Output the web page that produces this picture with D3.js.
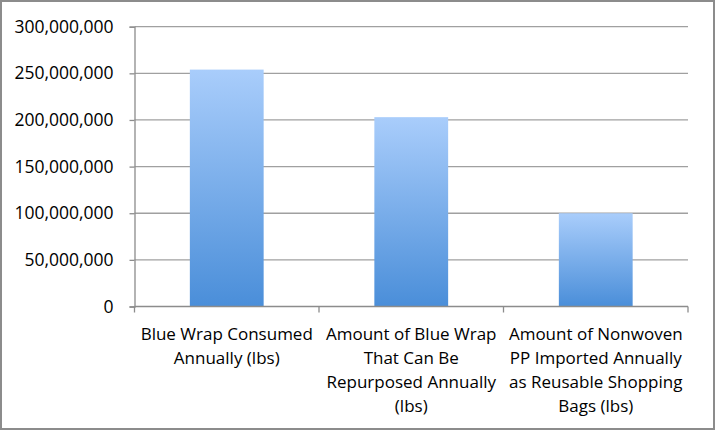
<!DOCTYPE html>
<html><head><meta charset="utf-8">
<script src="https://cdn.jsdelivr.net/npm/d3@7"></script>
<style>body{margin:0;background:#fff}svg{display:block}</style>
</head><body>
<script>
const categories = ["Blue Wrap Consumed Annually (lbs)", "Amount of Blue Wrap That Can Be Repurposed Annually (lbs)", "Amount of Nonwoven PP Imported Annually as Reusable Shopping Bags (lbs)"];
const categoryLines = [
  ["Blue Wrap Consumed", "Annually (lbs)"],
  ["Amount of Blue Wrap", "That Can Be", "Repurposed Annually", "(lbs)"],
  ["Amount of Nonwoven", "PP Imported Annually", "as Reusable Shopping", "Bags (lbs)"]
];
const values = [254000000, 203000000, 100000000];
const yTicks = [0, 50000000, 100000000, 150000000, 200000000, 250000000, 300000000];

const W = 715, H = 430;
const m = {left: 134.5, right: 27, top: 26.7, bottom: 123.5};
const svg = d3.select("body").append("svg").attr("width", W).attr("height", H);

const defs = svg.append("defs");
const g0 = defs.append("linearGradient").attr("id", "barGrad").attr("x1", 0).attr("y1", 0).attr("x2", 0).attr("y2", 1);
g0.append("stop").attr("offset", "0%").attr("stop-color", "#a9cdfb");
g0.append("stop").attr("offset", "100%").attr("stop-color", "#4a8ed9");

// outer border
svg.append("rect").attr("x", 1).attr("y", 1).attr("width", W - 2).attr("height", H - 2)
  .attr("fill", "none").attr("stroke", "#8c8c8c").attr("stroke-width", 2);

const x = d3.scaleBand().domain(categories).range([m.left, W - m.right]).paddingInner(0.6).paddingOuter(0.3);
const y = d3.scaleLinear().domain([0, 300000000]).range([H - m.bottom, m.top]);

const fmt = d3.format(",");
const font = "'Open Sans', sans-serif";

// gridlines
svg.append("g").selectAll("line").data(yTicks.filter(d => d > 0)).join("line")
  .attr("x1", m.left).attr("x2", W - m.right)
  .attr("y1", d => y(d)).attr("y2", d => y(d))
  .attr("stroke", "#a0a0a0").attr("stroke-width", 1.3);

// bars
svg.append("g").selectAll("rect").data(values).join("rect")
  .attr("x", (d, i) => x(categories[i]))
  .attr("width", x.bandwidth())
  .attr("y", d => y(d))
  .attr("height", d => y(0) - y(d))
  .attr("fill", "url(#barGrad)");

// y axis
const yAxis = d3.axisLeft(y).tickValues(yTicks).tickFormat(fmt).tickSize(5).tickPadding(16);
const ya = svg.append("g").attr("transform", `translate(${m.left},0)`).call(yAxis);
ya.select(".domain").attr("stroke", "#8c8c8c").attr("stroke-width", 1.3);
ya.selectAll(".tick line").attr("stroke", "#8c8c8c").attr("stroke-width", 1.3);
ya.selectAll(".tick text").attr("font-family", font).attr("font-size", 17.5).attr("fill", "#000");

// x axis baseline and boundary ticks
const xa = svg.append("g");
xa.append("line").attr("x1", m.left).attr("x2", W - m.right).attr("y1", y(0)).attr("y2", y(0))
  .attr("stroke", "#8c8c8c").attr("stroke-width", 1.3);
const bounds = d3.range(categories.length + 1).map(i => m.left + (W - m.left - m.right) * i / categories.length);
xa.selectAll("line.b").data(bounds).join("line").attr("class", "b")
  .attr("x1", d => d).attr("x2", d => d).attr("y1", y(0)).attr("y2", y(0) + 6)
  .attr("stroke", "#8c8c8c").attr("stroke-width", 1.3);

// category labels
const lab = svg.append("g");
categories.forEach((c, i) => {
  const cx = x(c) + x.bandwidth() / 2;
  const t = lab.append("text").attr("text-anchor", "middle").attr("font-family", font)
    .attr("font-size", 17).attr("fill", "#000");
  categoryLines[i].forEach((ln, j) => {
    t.append("tspan").attr("x", cx).attr("y", y(0) + 33 + j * 24).text(ln);
  });
});
</script>
</body></html>
